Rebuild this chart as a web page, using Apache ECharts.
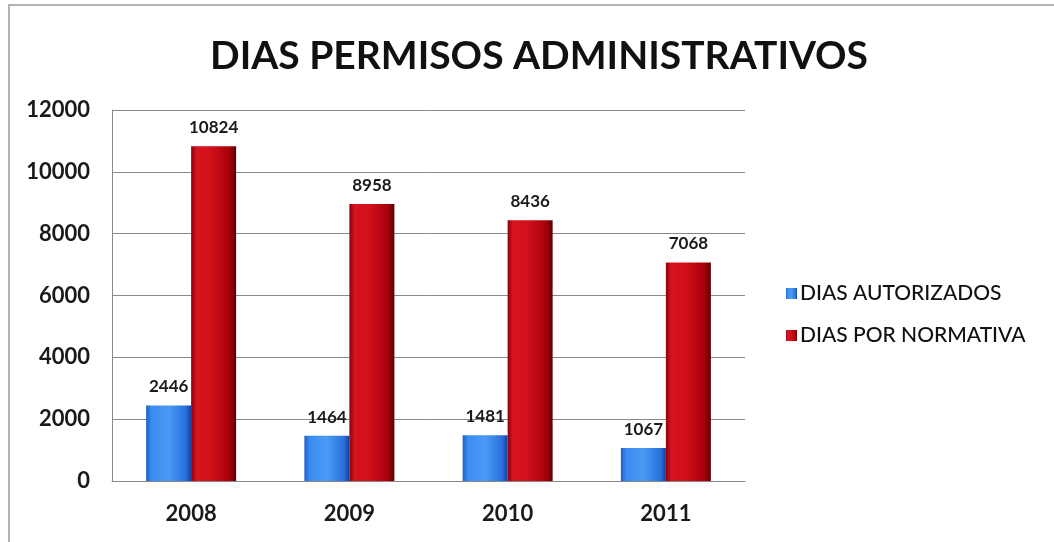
<!DOCTYPE html>
<html><head><meta charset="utf-8">
<script src="https://cdn.jsdelivr.net/npm/echarts@6/dist/echarts.min.js"></script>
<style>html,body{margin:0;padding:0;background:#fff}#c{width:1054px;height:542px}</style>
</head><body><div id="c"></div>
<script>
const titleText = 'DIAS PERMISOS ADMINISTRATIVOS';
const categories = ['2008', '2009', '2010', '2011'];
const seriesNames = ['DIAS AUTORIZADOS', 'DIAS POR NORMATIVA'];
const autorizados = [2446, 1464, 1481, 1067];
const normativa = [10824, 8958, 8436, 7068];
const yTicks = [0, 2000, 4000, 6000, 8000, 10000, 12000];

const FONT = 'Lato';
const blueGrad = new echarts.graphic.LinearGradient(0, 0, 1, 0, [
  {offset: 0, color: '#1f5fc8'},
  {offset: 0.12, color: '#3b8cf0'},
  {offset: 0.5, color: '#4a9af5'},
  {offset: 0.88, color: '#2a6fdc'},
  {offset: 1, color: '#123f9a'}
]);
const redGrad = new echarts.graphic.LinearGradient(0, 0, 1, 0, [
  {offset: 0, color: '#8a0010'},
  {offset: 0.12, color: '#d8141e'},
  {offset: 0.45, color: '#d0101a'},
  {offset: 0.85, color: '#a8000c'},
  {offset: 1, color: '#5a0005'}
]);

const chart = echarts.init(document.getElementById('c'), null, {renderer: 'canvas'});
chart.setOption({
  animation: false,
  backgroundColor: '#fff',
  title: {
    text: titleText, top: 32, left: 534, textAlign: 'center',
    textStyle: {fontFamily: FONT, fontWeight: 'bold', fontSize: 39, color: '#111'}
  },
  graphic: [{
    type: 'rect', shape: {x: 9, y: 5, width: 1060, height: 560},
    style: {fill: 'none', stroke: '#999', lineWidth: 1.5}, silent: true
  }],
  legend: {
    orient: 'vertical', left: 781, top: 278, itemGap: 21,
    itemWidth: 11, itemHeight: 11, icon: 'rect',
    textStyle: {fontFamily: FONT, fontSize: 21, fontWeight: 500, color: '#111', padding: [0,0,0,-2]},
    data: seriesNames
  },
  grid: {left: 112, right: 309, top: 110, bottom: 61, containLabel: false},
  xAxis: {
    type: 'category', data: categories,
    axisLine: {show: true, lineStyle: {color: '#888', width: 1}},
    axisTick: {show: false},
    axisLabel: {fontFamily: FONT, fontSize: 22, color: '#1a1a1a', margin: 22, fontWeight: 'bold'}
  },
  yAxis: {
    type: 'value', min: yTicks[0], max: yTicks[yTicks.length - 1], interval: 2000,
    axisLine: {show: true, lineStyle: {color: '#888', width: 1}},
    axisTick: {show: false},
    splitLine: {lineStyle: {color: '#888', width: 1}},
    axisLabel: {fontFamily: FONT, fontSize: 22, fontWeight: 'bold', color: '#1a1a1a', margin: 22,
      formatter: v => String(v)}
  },
  series: [
    {
      name: seriesNames[0], type: 'bar', data: autorizados,
      barWidth: 45, barGap: '0%',
      itemStyle: {color: blueGrad},
      label: {show: true, position: 'top', distance: 10, fontFamily: FONT, fontSize: 17, fontWeight: 'bold', color: '#1a1a1a'}
    },
    {
      name: seriesNames[1], type: 'bar', data: normativa,
      barWidth: 45, barGap: '0%',
      itemStyle: {color: redGrad},
      label: {show: true, position: 'top', distance: 10, fontFamily: FONT, fontSize: 17, fontWeight: 'bold', color: '#1a1a1a'}
    }
  ]
});
</script></body></html>
